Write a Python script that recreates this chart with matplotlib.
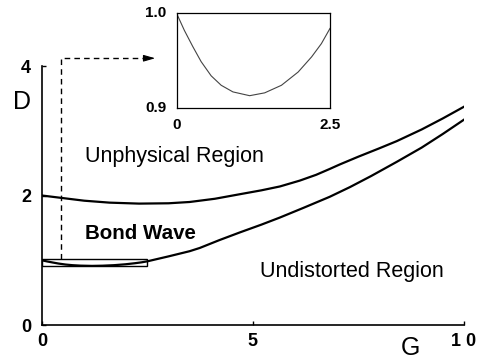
import matplotlib
matplotlib.use("Agg")
import matplotlib.pyplot as plt
import matplotlib.patches as mpatches

plt.rcParams['font.family'] = ['Liberation Sans', 'DejaVu Sans']

# upper boundary (unphysical / bond wave)
g_sup = [0.0, 0.5, 1.0, 1.6, 2.3, 3.0, 3.5, 4.1, 4.69, 5.2, 5.64, 6.11, 6.5,
         6.82, 7.06, 7.5, 8.0, 8.41, 9.0, 9.5, 10.0]
d_sup = [2.0, 1.96, 1.92, 1.89, 1.875, 1.88, 1.90, 1.95, 2.02, 2.08, 2.14, 2.23,
         2.32, 2.41, 2.48, 2.60, 2.73, 2.84, 3.02, 3.19, 3.37]

# zoom of the lower boundary for small G (inset)
g_zoom = [0.0, 0.12, 0.257, 0.394, 0.558, 0.722, 0.914, 1.187, 1.433, 1.707,
          1.98, 2.2, 2.36, 2.5]
d_zoom = [0.999, 0.982, 0.965, 0.949, 0.934, 0.924, 0.917, 0.913, 0.916, 0.924,
          0.938, 0.954, 0.968, 0.984]

# lower boundary (bond wave / undistorted), beyond the zoomed part
g_inf_alto = [3.0, 3.5, 3.74, 4.2, 4.69, 5.2, 5.64, 6.2, 6.82, 7.3, 7.8, 8.41,
              9.0, 9.5, 10.0]
d_inf_alto = [1.06, 1.14, 1.19, 1.31, 1.43, 1.55, 1.66, 1.81, 1.98, 2.13, 2.30,
              2.52, 2.74, 2.95, 3.17]

g_inf = g_zoom + g_inf_alto
d_inf = d_zoom + d_inf_alto

fig = plt.figure(figsize=(4.81, 3.6), dpi=100)
ax = fig.add_axes([0.0873, 0.0972, 0.877, 0.7194])

ax.plot(g_sup, d_sup, color='k', lw=1.6, solid_joinstyle='round')
ax.plot(g_inf, d_inf, color='k', lw=1.6, solid_joinstyle='round')

# caja de zoom
ax.add_patch(mpatches.Rectangle((0, 0.91), 2.5, 0.11, fill=False, ec='k', lw=1.0))

# flecha discontinua hacia el recuadro
ax.plot([0.46, 0.46, 2.49], [1.02, 4.12, 4.12], color='k', lw=1.0,
        ls=(0, (4, 3)), clip_on=False)
ax.annotate('', xy=(2.75, 4.12), xytext=(2.45, 4.12), annotation_clip=False,
            arrowprops=dict(arrowstyle='-|>,head_length=0.7,head_width=0.2',
                            color='k', lw=0.8))

ax.set_xlim(0, 10)
ax.set_ylim(0, 4)
ax.spines['top'].set_visible(False)
ax.spines['right'].set_visible(False)
ax.spines['left'].set_linewidth(1.2)
ax.spines['bottom'].set_linewidth(1.2)
ax.set_xticks([0, 5, 10])
ax.set_yticks([0, 2, 4])
ax.set_xticklabels(['0', '5', '1 0'])
ax.tick_params(direction='in', length=3, width=1, labelsize=13, pad=6)
ax.tick_params(axis='y', pad=8)
for lab in ax.get_xticklabels() + ax.get_yticklabels():
    lab.set_fontweight('bold')

ax.text(-0.47, 3.45, 'D', fontsize=18, ha='center', va='center', clip_on=False)
ax.text(8.73, -0.36, 'G', fontsize=18, ha='center', va='center', clip_on=False)

ax.text(1.03, 2.61, 'Unphysical Region', fontsize=15.5, ha='left', va='center')
ax.text(1.03, 1.42, 'Bond Wave', fontsize=14.8, ha='left', va='center', fontweight='bold')
ax.text(5.17, 0.82, 'Undistorted Region', fontsize=15.5, ha='left', va='center')

# recuadro
ins = fig.add_axes([0.368, 0.7, 0.318, 0.263])
ins.plot(g_zoom, d_zoom, color='#444444', lw=0.8)
ins.set_xlim(0, 2.5)
ins.set_ylim(0.9, 1.0)
ins.set_xticks([])
ins.set_yticks([])
for s in ins.spines.values():
    s.set_linewidth(0.9)
ins.text(-0.17, 1.0, '1.0', fontsize=11, fontweight='bold', ha='right', va='center')
ins.text(-0.17, 0.9, '0.9', fontsize=11, fontweight='bold', ha='right', va='center')
ins.text(0.0, 0.882, '0', fontsize=11, fontweight='bold', ha='center', va='center')
ins.text(2.5, 0.882, '2.5', fontsize=11, fontweight='bold', ha='center', va='center')

fig.savefig('out.png', dpi=100)
